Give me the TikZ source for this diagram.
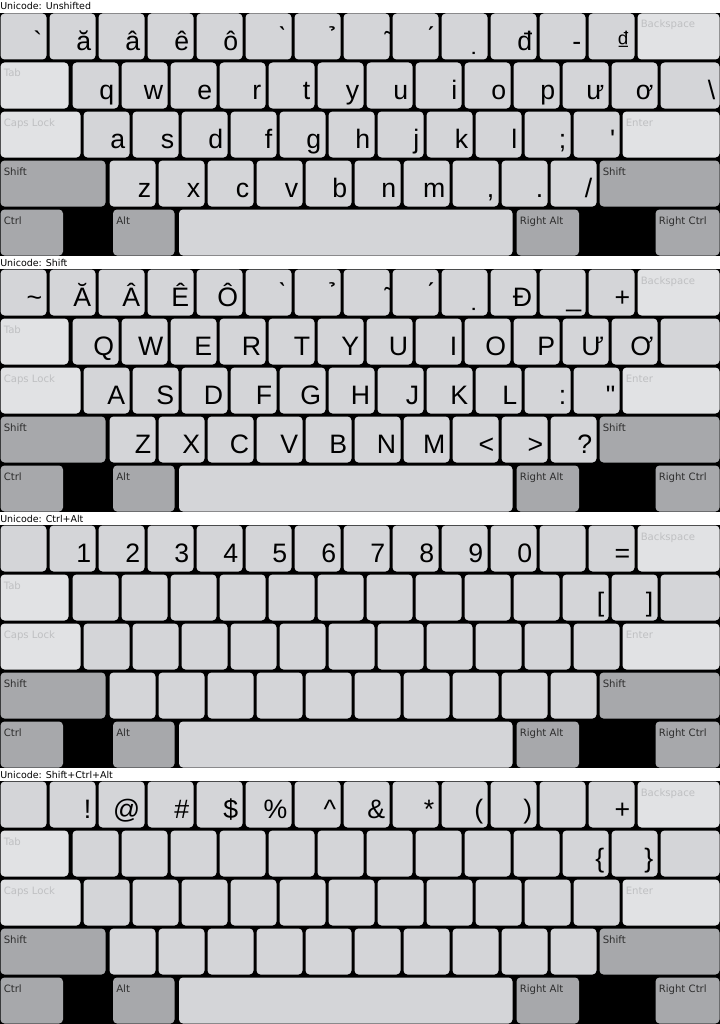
\documentclass[tikz,border=0pt]{standalone}
\usepackage{fontspec}
\setmainfont{Liberation Sans}[Ligatures=TeXOff]
\newfontfamily\lblfont{DejaVu Sans}
\definecolor{kn}{HTML}{D4D5D8}
\definecolor{kl}{HTML}{E1E2E4}
\definecolor{kd}{HTML}{A7A8AB}
\definecolor{tl}{HTML}{BFC0C2}
\definecolor{td}{HTML}{2E2E2E}
\tikzset{
  keyn/.style={fill=kn, rounded corners=3pt},
  keyl/.style={fill=kl, rounded corners=3pt},
  keyd/.style={fill=kd, rounded corners=3pt},
  ch/.style={anchor=base east, inner sep=0pt, text=black, font=\fontsize{20}{22}\selectfont},
  labl/.style={anchor=base west, inner sep=0pt, text=tl, font=\lblfont\fontsize{7.6}{9}\selectfont},
  labd/.style={anchor=base west, inner sep=0pt, text=td, font=\lblfont\fontsize{7.6}{9}\selectfont},
  ttl/.style={anchor=base west, inner sep=0pt, text=black, font=\lblfont\fontsize{7.1}{9}\selectfont},
}
% a row of ordinary keys: top y, first x, name prefix, list of characters
\newcommand\kbrow[4]{%
  \foreach \kc [count=\ki from 0] in {#4} {%
    \fill[keyn] ({#2+49*\ki},{#1}) rectangle ++(46,46);
    \node[ch] (#3\ki) at ({#2+49*\ki+42},{#1+37}) {\kc};
  }}
% a wide key with label: name, x, y, w, style, label, label style
\newcommand\wk[7]{%
  \fill[#5] (#2,{#3}) rectangle ++(#4,46);
  \node[#7] (#1) at ({#2+3},{#3+14.5}) {#6};}
% whole board: offset, title, row1, row2, backslash char, row3, row4
\newcommand\board[7]{%
  \fill[black] (0,{#1+13}) rectangle (720,{#1+256});
  \node[ttl] (title#1) at (0,{#1+10}) {#2};
  \kbrow{#1+13.5}{0.5}{k#1a}{#3}
  \wk{bs#1}{637.5}{#1+13.5}{82}{keyl}{Backspace}{labl}
  \wk{tab#1}{0.5}{#1+62.5}{68}{keyl}{Tab}{labl}
  \kbrow{#1+62.5}{72.5}{k#1b}{#4}
  \fill[keyn] (660.5,{#1+62.5}) rectangle ++(59,46);
  \node[ch] (bsl#1) at (715.5,{#1+99.5}) {#5};
  \wk{caps#1}{0.5}{#1+111.5}{80}{keyl}{Caps Lock}{labl}
  \kbrow{#1+111.5}{83.5}{k#1c}{#6}
  \wk{ent#1}{622.5}{#1+111.5}{97}{keyl}{Enter}{labl}
  \wk{lsh#1}{0.5}{#1+160.5}{105}{keyd}{Shift}{labd}
  \kbrow{#1+160.5}{109.5}{k#1d}{#7}
  \wk{rsh#1}{599.5}{#1+160.5}{120}{keyd}{Shift}{labd}
  \wk{ctl#1}{0.5}{#1+209.5}{62.5}{keyd}{Ctrl}{labd}
  \wk{alt#1}{113}{#1+209.5}{61.5}{keyd}{Alt}{labd}
  \fill[keyn] (179,{#1+209.5}) rectangle ++(333.5,46);
  \wk{ralt#1}{516.5}{#1+209.5}{62.5}{keyd}{Right Alt}{labd}
  \wk{rctl#1}{655.5}{#1+209.5}{64}{keyd}{Right Ctrl}{labd}
}
\begin{document}
\begin{tikzpicture}[x=0.75pt,y=-0.75pt]
\useasboundingbox (0,0) rectangle (720,1024);
\fill[white] (0,0) rectangle (720,1024);
\board{0}{Unicode: Unshifted}
 {{\char"60},{ă},{â},{ê},{ô},{\char"0300},{\char"0309},{\char"0303},{\char"0301},{\char"0323},{đ},{-},{₫}}
 {{q},{w},{e},{r},{t},{y},{u},{i},{o},{p},{ư},{ơ}}
 {\char"5C}
 {{a},{s},{d},{f},{g},{h},{j},{k},{l},{;},{\char"27}}
 {{z},{x},{c},{v},{b},{n},{m},{,},{.},{/}}
\board{256}{Unicode: Shift}
 {{\char"7E},{Ă},{Â},{Ê},{Ô},{\char"0300},{\char"0309},{\char"0303},{\char"0301},{\char"0323},{Đ},{\char"5F},{+}}
 {{Q},{W},{E},{R},{T},{Y},{U},{I},{O},{P},{Ư},{Ơ}}
 {}
 {{A},{S},{D},{F},{G},{H},{J},{K},{L},{:},{\char"22}}
 {{Z},{X},{C},{V},{B},{N},{M},{<},{>},{?}}
\board{512}{Unicode: Ctrl+Alt}
 {{},{1},{2},{3},{4},{5},{6},{7},{8},{9},{0},{},{=}}
 {{},{},{},{},{},{},{},{},{},{},{[},{]}}
 {}
 {{},{},{},{},{},{},{},{},{},{},{}}
 {{},{},{},{},{},{},{},{},{},{}}
\board{768}{Unicode: Shift+Ctrl+Alt}
 {{},{!},{@},{\#},{\$},{\%},{\char"5E},{\&},{*},{(},{)},{},{+}}
 {{},{},{},{},{},{},{},{},{},{},{\char"7B},{\char"7D}}
 {}
 {{},{},{},{},{},{},{},{},{},{},{}}
 {{},{},{},{},{},{},{},{},{},{}}
\end{tikzpicture}
\end{document}
